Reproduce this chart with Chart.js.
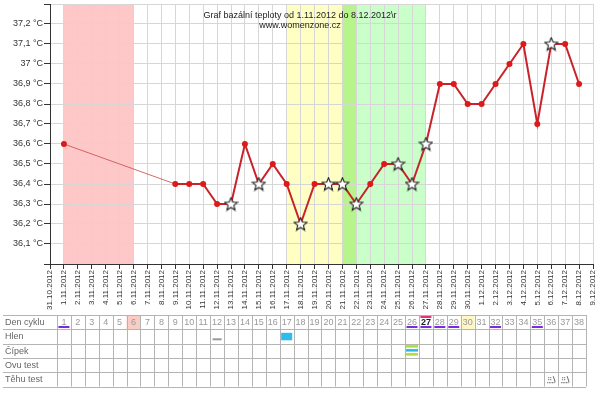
<!DOCTYPE html>
<html lang="cs">
<head>
  <meta charset="UTF-8" />
  <title>Graf bazální teploty</title>
  <style>
    * { margin: 0; padding: 0; }
    body { background: #fff; }
    #myChart { display: block; }
  </style>
</head>
<body>
  <canvas id="myChart" width="600" height="393"></canvas>
  <script src="https://cdn.jsdelivr.net/npm/chart.js@4/dist/chart.umd.min.js"></script>
  <script>
    const dateLabels = [
      "31.10.2012",
      "1.11.2012", "2.11.2012", "3.11.2012", "4.11.2012", "5.11.2012",
      "6.11.2012", "7.11.2012", "8.11.2012", "9.11.2012", "10.11.2012",
      "11.11.2012", "12.11.2012", "13.11.2012", "14.11.2012", "15.11.2012",
      "16.11.2012", "17.11.2012", "18.11.2012", "19.11.2012", "20.11.2012",
      "21.11.2012", "22.11.2012", "23.11.2012", "24.11.2012", "25.11.2012",
      "26.11.2012", "27.11.2012", "28.11.2012", "29.11.2012", "30.11.2012",
      "1.12.2012", "2.12.2012", "3.12.2012", "4.12.2012", "5.12.2012",
      "6.12.2012", "7.12.2012", "8.12.2012", "9.12.2012",
    ];

    // teplota po dnech (null = neměřeno)
    const temps = [
      null,
      36.6, null, null, null, null, null, null, null, 36.4, 36.4,
      36.4, 36.3, 36.3, 36.6, 36.4, 36.5, 36.4, 36.2, 36.4, 36.4,
      36.4, 36.3, 36.4, 36.5, 36.5, 36.4, 36.6, 36.9, 36.9, 36.8,
      36.8, 36.9, 37.0, 37.1, 36.7, 37.1, 37.1, 36.9,
      null,
    ];

    // dny označené hvězdičkou
    const starDays = [13, 15, 18, 20, 21, 22, 25, 26, 27, 36];

    const yTicks = [36.1, 36.2, 36.3, 36.4, 36.5, 36.6, 36.7, 36.8, 36.9, 37.0, 37.1, 37.2];

    // tabulka pod grafem
    const rowLabels = ["Den cyklu", "Hlen", "Čípek", "Ovu test", "Těhu test"];
    const cycleDays = [
      1, 2, 3, 4, 5, 6, 7, 8, 9, 10, 11, 12, 13, 14, 15, 16, 17, 18, 19,
      20, 21, 22, 23, 24, 25, 26, 27, 28, 29, 30, 31, 32, 33, 34, 35, 36, 37, 38,
    ];
    const underlinedDays = [1, 26, 27, 28, 29, 32, 35];
    const menstruationDay = [6];
    const highlightDay = [30];
    const markedDay = [27];
    const hlenDash = [12];
    const hlenBlock = [17];
    const cipekDays = [26];
    const tehuTestDays = [36, 37];

    // barevné pásy (index od, index do)
    const bands = [
      { from: 1, to: 6, color: "rgb(255,200,200)" },
      { from: 17, to: 21, color: "rgb(255,255,196)" },
      { from: 21, to: 22, color: "rgb(184,244,140)" },
      { from: 22, to: 27, color: "rgb(202,255,202)" },
    ];

    const FONT = "'Liberation Sans', Arial, sans-serif";

    // bílá hvězdička jako pointStyle
    const starImg = document.createElement("canvas");
    starImg.width = 15;
    starImg.height = 15;
    (function () {
      const c = starImg.getContext("2d");
      c.beginPath();
      for (let i = 0; i < 10; i++) {
        const r = i % 2 === 0 ? 6.8 : 3.0;
        const a = -Math.PI / 2 + (i * Math.PI) / 5;
        const px = 7.5 + r * Math.cos(a);
        const py = 8 + r * Math.sin(a);
        if (i === 0) c.moveTo(px, py);
        else c.lineTo(px, py);
      }
      c.closePath();
      c.fillStyle = "#fff";
      c.fill();
      c.lineWidth = 1.1;
      c.strokeStyle = "#222";
      c.stroke();
    })();

    const bandsPlugin = {
      id: "bands",
      beforeDraw(chart) {
        const { ctx, chartArea, scales } = chart;
        ctx.save();
        ctx.fillStyle = "#fff";
        ctx.fillRect(0, 0, chart.width, chart.height);
        bands.forEach((b) => {
          const x1 = scales.x.getPixelForValue(b.from);
          const x2 = scales.x.getPixelForValue(b.to);
          ctx.fillStyle = b.color;
          ctx.fillRect(x1, chartArea.top, x2 - x1, chartArea.bottom - chartArea.top);
        });
        ctx.restore();
      },
    };

    const titlePlugin = {
      id: "titleText",
      afterDatasetsDraw(chart) {
        const ctx = chart.ctx;
        ctx.save();
        ctx.fillStyle = "#222";
        ctx.font = "9px " + FONT;
        ctx.textAlign = "center";
        ctx.textBaseline = "middle";
        ctx.fillText("Graf bazální teploty od 1.11.2012 do 8.12.2012\\r", 300, 16);
        ctx.fillText("www.womenzone.cz", 300, 26);
        ctx.restore();
      },
    };

    const tablePlugin = {
      id: "cycleTable",
      afterDraw(chart) {
        const ctx = chart.ctx;
        const xs = chart.scales.x;
        const step = xs.getPixelForValue(1) - xs.getPixelForValue(0);
        const top = 315;
        const rowH = 14.3;
        const tableLeft = 3;
        const colLeft = (d) => xs.getPixelForValue(d) - step / 2;
        const firstCol = colLeft(cycleDays[0]);
        const lastCol = colLeft(cycleDays[cycleDays.length - 1]) + step;
        const bottom = top + rowH * rowLabels.length;

        ctx.save();

        // pozadí buněk
        menstruationDay.forEach((d) => {
          ctx.fillStyle = "rgb(250,204,196)";
          ctx.fillRect(colLeft(d), top, step, rowH);
        });
        highlightDay.forEach((d) => {
          ctx.fillStyle = "rgb(255,248,196)";
          ctx.fillRect(colLeft(d), top, step, rowH);
        });

        // mřížka
        ctx.strokeStyle = "#b4b4b4";
        ctx.lineWidth = 1;
        ctx.beginPath();
        for (let r = 0; r <= rowLabels.length; r++) {
          const y = Math.round(top + r * rowH) + 0.5;
          ctx.moveTo(tableLeft, y);
          ctx.lineTo(lastCol, y);
        }
        for (let i = 0; i <= cycleDays.length; i++) {
          const x = Math.round(firstCol + i * step) + 0.5;
          ctx.moveTo(x, top);
          ctx.lineTo(x, bottom);
        }
        ctx.stroke();

        // popisky řádků
        ctx.font = "9px " + FONT;
        ctx.textBaseline = "middle";
        ctx.textAlign = "left";
        ctx.fillStyle = "#666";
        rowLabels.forEach((l, r) => {
          ctx.fillText(l, 5, top + r * rowH + rowH / 2 + 0.5);
        });

        // dny cyklu
        ctx.textAlign = "center";
        cycleDays.forEach((d) => {
          const cx = xs.getPixelForValue(d);
          const bold = markedDay.includes(d);
          ctx.font = (bold ? "bold " : "") + "9px " + FONT;
          ctx.fillStyle = bold ? "#222" : "#999";
          ctx.fillText(String(d), cx, top + rowH / 2 + 0.5);
          if (underlinedDays.includes(d)) {
            ctx.fillStyle = "#7a2be0";
            ctx.fillRect(cx - 5.5, top + 11, 11, 2);
          }
          if (bold) {
            ctx.fillStyle = "#e8307a";
            ctx.fillRect(cx - 5.5, top + 1, 11, 2);
          }
        });

        // hlen
        hlenDash.forEach((d) => {
          const cx = xs.getPixelForValue(d);
          ctx.fillStyle = "#999";
          ctx.fillRect(cx - 4.5, top + rowH + 9, 9, 2);
        });
        hlenBlock.forEach((d) => {
          const cx = xs.getPixelForValue(d);
          ctx.fillStyle = "#2ebcef";
          ctx.fillRect(cx - 5.5, top + rowH + 3.5, 11, 7.5);
        });

        // čípek
        cipekDays.forEach((d) => {
          const cx = xs.getPixelForValue(d);
          const y0 = top + 2 * rowH;
          ctx.fillStyle = "#a6e03c";
          ctx.fillRect(cx - 6, y0 + 1.5, 12, 2.5);
          ctx.fillRect(cx - 6, y0 + 9.5, 12, 2.5);
          ctx.fillStyle = "#2eb6e8";
          ctx.fillRect(cx - 6, y0 + 5.5, 12, 2.5);
        });

        // těhotenský test (malá ikonka)
        tehuTestDays.forEach((d) => {
          const cx = xs.getPixelForValue(d);
          const y0 = top + 4 * rowH;
          ctx.fillStyle = "#555";
          for (let i = 0; i < 5; i++) ctx.fillRect(cx - 4 + i * 1.6, y0 + 10, 1, 1);
          ctx.fillRect(cx - 3, y0 + 5, 1, 1);
          ctx.fillRect(cx - 1, y0 + 5, 1, 1);
          ctx.fillRect(cx - 3, y0 + 7, 1, 1);
          ctx.fillRect(cx - 1, y0 + 7, 1, 1);
          ctx.strokeStyle = "#666";
          ctx.beginPath();
          ctx.moveTo(cx + 2, y0 + 4);
          ctx.lineTo(cx + 4, y0 + 10);
          ctx.stroke();
        });

        ctx.restore();
      },
    };

    // úsek přes chybějící dny je tenký a světlejší
    const gap = (c, value) => (c.p0.skip || c.p1.skip ? value : undefined);

    const data = {
      labels: dateLabels,
      datasets: [
        {
          label: "Teplota",
          data: temps,
          spanGaps: true,
          borderColor: "#c8232a",
          borderWidth: 2,
          segment: {
            borderColor: (c) => gap(c, "rgba(205,80,80,0.85)"),
            borderWidth: (c) => gap(c, 1),
          },
          pointStyle: (c) => (starDays.includes(c.dataIndex) ? starImg : "circle"),
          pointRadius: 3,
          pointBorderWidth: 0,
          pointBackgroundColor: "#dd1a1a",
          pointBorderColor: "#dd1a1a",
          tension: 0,
        },
      ],
    };

    const options = {
      responsive: false,
      animation: false,
      events: [],
      layout: { padding: { left: 0, right: 7, top: 0, bottom: 79 } },
      plugins: {
        legend: { display: false },
        tooltip: { enabled: false },
      },
      scales: {
        x: {
          type: "category",
          offset: false,
          grid: { color: "#d6d6d6", tickColor: "#333", tickLength: 5 },
          border: { color: "#333" },
          ticks: {
            autoSkip: false,
            minRotation: 90,
            maxRotation: 90,
            padding: 1,
            color: "#333",
            font: { family: FONT, size: 8 },
          },
          afterFit(scale) {
            scale.height = 50;
            scale.paddingLeft = 0;
            scale.paddingRight = 0;
          },
        },
        y: {
          min: 36.0,
          max: 37.3,
          grid: { color: "#d6d6d6", tickColor: "#333", tickLength: 6 },
          border: { color: "#333" },
          afterBuildTicks(scale) {
            scale.ticks = [36.0].concat(yTicks, [37.3]).map((v) => ({ value: v }));
          },
          ticks: {
            padding: 1,
            color: "#333",
            font: { family: FONT, size: 9 },
            callback: function (value) {
              const v = Math.round(value * 10) / 10;
              if (!yTicks.includes(v)) return "";
              return String(v).replace(".", ",") + " °C";
            },
          },
          afterFit(scale) {
            scale.width = 50;
            scale.paddingTop = 0;
            scale.paddingBottom = 0;
          },
        },
      },
    };

    const ctx = document.getElementById("myChart").getContext("2d");
    const myChart = new Chart(ctx, {
      type: "line",
      data: data,
      options: options,
      plugins: [bandsPlugin, titlePlugin, tablePlugin],
    });
  </script>
</body>
</html>
